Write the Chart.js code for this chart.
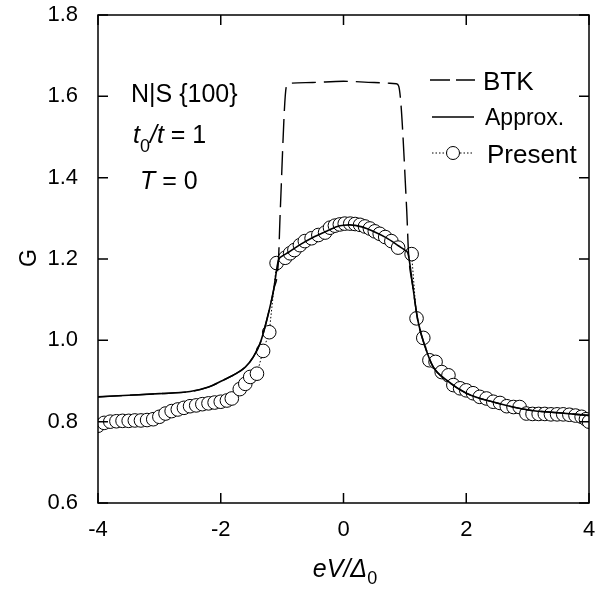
<!DOCTYPE html>
<html><head><meta charset="utf-8">
<script src="https://cdn.jsdelivr.net/npm/chart.js@4.4.1/dist/chart.umd.min.js"></script>
<style>html,body{margin:0;padding:0;background:#fff}#wrap{width:608px;height:589px}</style>
</head><body><div id="wrap"><canvas id="c" width="608" height="589"></canvas></div>
<script>
// ---- data ----
const btkX = [-4,-3.5,-3,-2.5,-2.2,-1.96,-1.8,-1.6,-1.47,-1.36,-1.25,-1.14,-1.06,-1.03,-0.93,-0.88,-0.5,0,0.5,0.86,0.9,1.03,1.06,1.13,1.21,1.33,1.46,1.68,2.0,2.5,3.04,3.5,4];
const btkY = [0.861,0.865,0.869,0.874,0.885,0.902,0.914,0.934,0.959,0.992,1.05,1.123,1.197,1.32,1.625,1.632,1.634,1.637,1.634,1.631,1.625,1.32,1.214,1.132,1.05,0.984,0.935,0.902,0.87,0.846,0.828,0.822,0.815];

const approxX = [-4,-3.5,-3,-2.5,-2.2,-1.96,-1.8,-1.6,-1.47,-1.36,-1.25,-1.14,-1.06,-1.0,-0.9,-0.7,-0.5,-0.3,-0.1,0,0.1,0.3,0.5,0.7,0.9,1.0,1.05,1.13,1.21,1.33,1.46,1.68,2.0,2.5,3.04,3.5,4];
const approxY = [0.861,0.865,0.869,0.874,0.885,0.902,0.914,0.934,0.959,0.992,1.05,1.123,1.197,1.207,1.216,1.236,1.253,1.267,1.280,1.283,1.284,1.279,1.267,1.252,1.232,1.222,1.214,1.132,1.05,0.984,0.935,0.902,0.87,0.846,0.828,0.822,0.815];

const presentX = [-4.0,-3.9,-3.8,-3.7,-3.6,-3.5,-3.4,-3.3,-3.2,-3.1,-3.0,-2.9,-2.8,-2.7,-2.6,-2.5,-2.4,-2.3,-2.2,-2.1,-2.0,-1.9,-1.82,-1.69,-1.6,-1.52,-1.41,-1.31,-1.21,-1.09,-0.95,-0.87,-0.80,-0.71,-0.63,-0.52,-0.41,-0.30,-0.22,-0.14,-0.06,0.02,0.11,0.19,0.27,0.35,0.43,0.51,0.59,0.68,0.78,0.89,1.11,1.19,1.30,1.40,1.50,1.60,1.71,1.79,1.90,2.00,2.11,2.22,2.33,2.44,2.55,2.66,2.77,2.87,2.98,3.08,3.18,3.28,3.38,3.48,3.58,3.68,3.78,3.88,3.95,4.0];
const presentY = [0.790,0.797,0.800,0.801,0.802,0.802,0.803,0.803,0.804,0.806,0.812,0.820,0.826,0.830,0.834,0.838,0.840,0.843,0.845,0.847,0.849,0.852,0.857,0.880,0.893,0.910,0.918,0.974,1.020,1.190,1.203,1.214,1.222,1.234,1.244,1.251,1.259,1.265,1.277,1.282,1.285,1.287,1.287,1.286,1.284,1.280,1.275,1.268,1.262,1.254,1.244,1.228,1.212,1.054,1.006,0.951,0.947,0.922,0.914,0.890,0.882,0.877,0.870,0.861,0.857,0.849,0.846,0.838,0.836,0.836,0.820,0.819,0.819,0.819,0.818,0.818,0.818,0.817,0.815,0.812,0.806,0.800];

const xTicks = [-4,-2,0,2,4];
const yTicks = [0.6,0.8,1.0,1.2,1.4,1.6,1.8];
const seriesNames = ['BTK','Approx.','Present'];

const FONT = '"Liberation Sans", Arial, Helvetica, sans-serif';
const pts = (xs, ys) => xs.map((x, i) => ({x, y: ys[i]}));

const decor = {
  id: 'decor',
  afterDraw(chart) {
    const ctx = chart.ctx, a = chart.chartArea;
    const xs = chart.scales.x, ys = chart.scales.y;
    ctx.save();
    ctx.strokeStyle = '#000';
    ctx.lineWidth = 1.5;
    ctx.strokeRect(a.left, a.top, a.right - a.left, a.bottom - a.top);
    const TL = 10;
    ctx.beginPath();
    xTicks.forEach(v => {
      const px = xs.getPixelForValue(v);
      ctx.moveTo(px, a.bottom); ctx.lineTo(px, a.bottom - TL);
      ctx.moveTo(px, a.top); ctx.lineTo(px, a.top + TL);
    });
    yTicks.forEach(v => {
      const py = ys.getPixelForValue(v);
      ctx.moveTo(a.left, py); ctx.lineTo(a.left + TL, py);
      ctx.moveTo(a.right, py); ctx.lineTo(a.right - TL, py);
    });
    ctx.stroke();

    ctx.fillStyle = '#000';
    ctx.textBaseline = 'alphabetic';
    // y title
    ctx.save();
    ctx.translate(36, 258);
    ctx.rotate(-Math.PI / 2);
    ctx.textAlign = 'center';
    ctx.font = '23px ' + FONT;
    ctx.fillText('G', 0, 0);
    ctx.restore();
    // x title
    ctx.textAlign = 'left';
    ctx.font = 'italic 25px ' + FONT;
    const t1 = 'eV/\u0394';
    const w1 = ctx.measureText(t1).width;
    ctx.font = '18px ' + FONT;
    const w2 = ctx.measureText('0').width;
    const x0 = 345 - (w1 + w2) / 2;
    ctx.font = 'italic 25px ' + FONT;
    ctx.fillText(t1, x0, 577);
    ctx.font = '18px ' + FONT;
    ctx.fillText('0', x0 + w1, 584);

    // annotations
    ctx.font = '25px ' + FONT;
    ctx.fillText('N|S {100}', 131, 102);
    let x = 133;
    ctx.font = 'italic 25px ' + FONT;
    ctx.fillText('t', x, 143); x += ctx.measureText('t').width;
    ctx.font = '18px ' + FONT;
    ctx.fillText('0', x, 152); x += ctx.measureText('0').width;
    ctx.font = 'italic 25px ' + FONT;
    ctx.fillText('/t', x, 143); x += ctx.measureText('/t').width;
    ctx.font = '25px ' + FONT;
    ctx.fillText(' = 1', x, 143);
    x = 140;
    ctx.font = 'italic 25px ' + FONT;
    ctx.fillText('T', x, 189); x += ctx.measureText('T').width;
    ctx.font = '25px ' + FONT;
    ctx.fillText(' = 0', x, 189);

    // legend
    ctx.lineWidth = 1.4;
    ctx.setLineDash([20, 6]);
    ctx.beginPath(); ctx.moveTo(430, 80); ctx.lineTo(475, 80); ctx.stroke();
    ctx.setLineDash([]);
    ctx.beginPath(); ctx.moveTo(432, 117); ctx.lineTo(474, 117); ctx.stroke();
    ctx.lineWidth = 1;
    ctx.setLineDash([1.5, 2]);
    ctx.beginPath(); ctx.moveTo(432, 153); ctx.lineTo(474, 153); ctx.stroke();
    ctx.setLineDash([]);
    ctx.fillStyle = '#fff';
    ctx.beginPath(); ctx.arc(453, 153, 6.5, 0, Math.PI * 2); ctx.fill(); ctx.stroke();
    ctx.fillStyle = '#000';
    ctx.font = '26px ' + FONT;
    ctx.fillText(seriesNames[0], 483, 90);
    ctx.font = '23px ' + FONT;
    ctx.fillText(seriesNames[1], 485, 125);
    ctx.font = '26px ' + FONT;
    ctx.fillText(seriesNames[2], 487, 163);
    ctx.restore();
  }
};

new Chart(document.getElementById('c'), {
  type: 'scatter',
  data: {
    datasets: [
      { label: seriesNames[0], data: pts(btkX, btkY), showLine: true, borderColor: '#000', borderWidth: 1.4, borderDash: [24, 8], pointRadius: 0, cubicInterpolationMode: 'monotone', fill: false },
      { label: seriesNames[1], data: pts(approxX, approxY), showLine: true, borderColor: '#000', borderWidth: 1.6, pointRadius: 0, cubicInterpolationMode: 'monotone', fill: false },
      { label: seriesNames[2], data: pts(presentX, presentY), showLine: true, borderColor: '#000', borderWidth: 1, borderDash: [1.5, 2], pointRadius: 6.8, pointBorderWidth: 1, pointBackgroundColor: '#fff', pointBorderColor: '#000', fill: false }
    ]
  },
  options: {
    responsive: false,
    devicePixelRatio: 1,
    animation: false,
    layout: { padding: { top: 15, right: 19, left: 0, bottom: 0 } },
    plugins: { legend: { display: false }, tooltip: { enabled: false } },
    scales: {
      x: {
        type: 'linear', min: -4, max: 4,
        afterBuildTicks: s => { s.ticks = xTicks.map(v => ({value: v})); },
        afterFit: s => { s.height = 86; s.paddingLeft = 0; s.paddingRight = 0; },
        grid: { display: false },
        border: { display: false },
        ticks: { color: '#000', font: { family: FONT, size: 22 }, padding: 6, callback: v => String(v) }
      },
      y: {
        type: 'linear', min: 0.6, max: 1.8,
        afterBuildTicks: s => { s.ticks = yTicks.map(v => ({value: v})); },
        afterFit: s => { s.width = 98; s.paddingTop = 0; s.paddingBottom = 0; },
        grid: { display: false },
        border: { display: false },
        ticks: { color: '#000', font: { family: FONT, size: 22 }, padding: 12, callback: v => v.toFixed(1) }
      }
    }
  },
  plugins: [decor]
});
</script>
</body></html>
